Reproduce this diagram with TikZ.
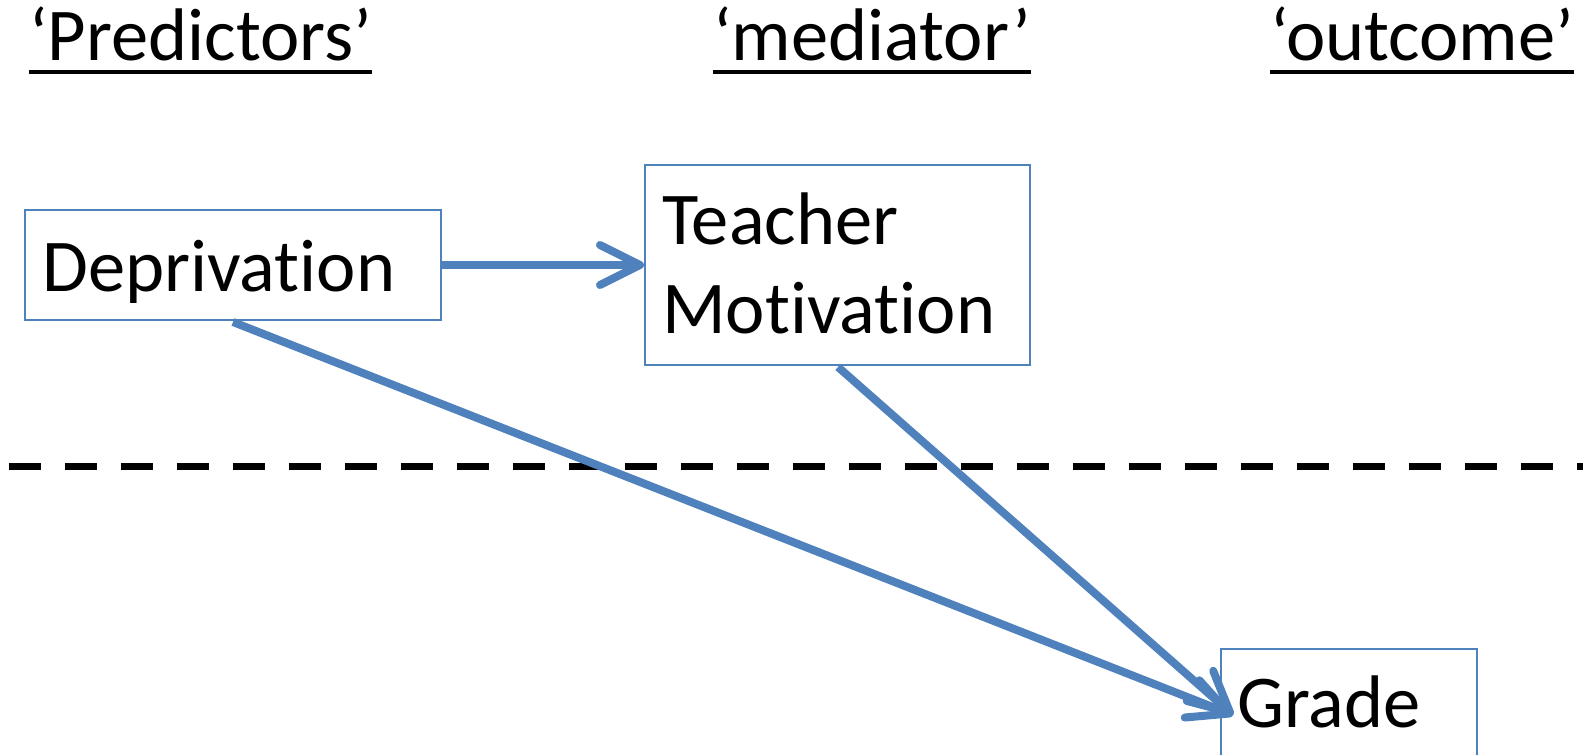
\documentclass[tikz,border=0pt]{standalone}
\usepackage{fontspec}
\setmainfont{Carlito}[RawFeature={-liga}]
\usetikzlibrary{arrows.meta}
\definecolor{boxblue}{HTML}{4F81BD}
\begin{document}
\begin{tikzpicture}[x=1pt,y=-1pt,
  box/.style={draw=boxblue, line width=2pt, rectangle, inner sep=0pt, anchor=north west},
  lbl/.style={inner sep=0pt, anchor=base west, font=\fontsize{74.5}{90}\selectfont},
  heading/.style={lbl},
  uline/.style={line width=4pt, black},
  conn/.style={draw=boxblue, line width=8pt,
    -{Straight Barb[length=40pt, width=40pt, round]}},
  divider/.style={line width=7pt, black, dash pattern=on 32pt off 24pt}]
\useasboundingbox (0,0) rectangle (1583,755);

% column headings, underlined
\node[heading] (hpred) at (29,60) {‘Predictors’};
\node[heading] (hmed)  at (713,60) {‘mediator’};
\node[heading] (hout)  at (1270,60) {‘outcome’};
\foreach \h in {hpred,hmed,hout}
  \draw[uline] ([yshift=-12pt]\h.base west) -- ([yshift=-12pt]\h.base east);

% separator between the upper and lower level
\coordinate (sepL) at (9.3,466.5);
\coordinate (sepR) at (1583,466.5);
\draw[divider] (sepL) -- (sepR);

% boxes
\node[box, minimum width=416pt, minimum height=110pt] (dep)   at (24,209) {};
\node[box, minimum width=385pt, minimum height=200pt] (tm)    at (644,164) {};
\node[box, minimum width=256pt, minimum height=110pt] (grade) at (1220,648) {};

% box texts
\node[lbl] (deptext)  at ([shift={(18,82)}]dep.north west) {Deprivation};
\node[lbl] (tmtext1)  at ([shift={(18,80)}]tm.north west) {Teacher};
\node[lbl] (tmtext2)  at ([shift={(18,169)}]tm.north west) {Motivation};
\node[lbl] (gradetext) at ([shift={(17,79)}]grade.north west) {Grade};

% paths
\draw[conn] (dep.east) -- (tm.west |- dep.east);
\draw[conn] ([shift={(209,1)}]dep.south west) -- ([shift={(13,67)}]grade.north west);
\draw[conn] ([shift={(194,1)}]tm.south west) -- ([shift={(13,67)}]grade.north west);
\end{tikzpicture}
\end{document}
